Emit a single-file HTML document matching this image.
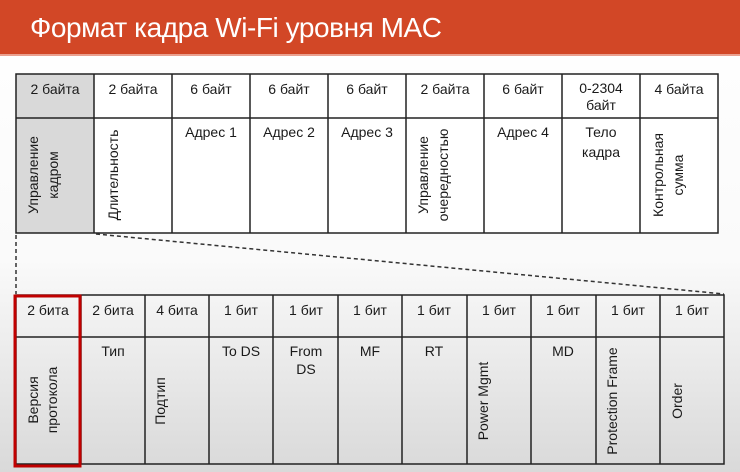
<!DOCTYPE html>
<html><head><meta charset="utf-8"><style>
html,body{margin:0;padding:0;background:#fff;}
svg{display:block;}
text{font-family:"Liberation Sans","DejaVu Sans",sans-serif;fill:#1a1a1a;}
</style></head><body>
<svg width="740" height="472" viewBox="0 0 740 472" xmlns="http://www.w3.org/2000/svg">
<defs>
<linearGradient id="bg" x1="0" y1="0" x2="0" y2="1">
<stop offset="0" stop-color="#ffffff"/>
<stop offset="0.55" stop-color="#fafafa"/>
<stop offset="1" stop-color="#d9d9d9"/>
</linearGradient>
</defs>
<rect x="0" y="0" width="740" height="472" fill="url(#bg)"/>
<rect x="0" y="0" width="740" height="54" fill="#d24726"/>
<rect x="0" y="54" width="740" height="2" fill="#eaa08f"/>
<text x="30" y="37" font-size="28" style="fill:#fff" textLength="412">Формат кадра Wi-Fi уровня MAC</text>

<!-- top table -->
<rect x="16" y="74" width="78" height="159" fill="#d9d9d9"/>
<rect x="94" y="74" width="624" height="159" fill="#fff"/>
<g stroke="#222" stroke-width="1.5" fill="none">
<rect x="16" y="74" width="702" height="159"/>
<line x1="16" y1="118" x2="718" y2="118"/>
<line x1="94" y1="74" x2="94" y2="233"/>
<line x1="172" y1="74" x2="172" y2="233"/>
<line x1="250" y1="74" x2="250" y2="233"/>
<line x1="328" y1="74" x2="328" y2="233"/>
<line x1="406" y1="74" x2="406" y2="233"/>
<line x1="484" y1="74" x2="484" y2="233"/>
<line x1="562" y1="74" x2="562" y2="233"/>
<line x1="640" y1="74" x2="640" y2="233"/>
</g>
<g font-size="14" text-anchor="middle">
<text x="55" y="94">2 байта</text>
<text x="133" y="94">2 байта</text>
<text x="211" y="94">6 байт</text>
<text x="289" y="94">6 байт</text>
<text x="367" y="94">6 байт</text>
<text x="445" y="94">2 байта</text>
<text x="523" y="94">6 байт</text>
<text x="601" y="93">0-2304</text>
<text x="601" y="110">байт</text>
<text x="679" y="94">4 байта</text>
<text x="211" y="137">Адрес 1</text>
<text x="289" y="137">Адрес 2</text>
<text x="367" y="137">Адрес 3</text>
<text x="523" y="137">Адрес 4</text>
<text x="601" y="137">Тело</text>
<text x="601" y="157">кадра</text>
<text transform="translate(38,175) rotate(-90)">Управление</text>
<text transform="translate(58,175) rotate(-90)">кадром</text>
<text transform="translate(118,175) rotate(-90)">Длительность</text>
<text transform="translate(428,175) rotate(-90)">Управление</text>
<text transform="translate(448,175) rotate(-90)">очередностью</text>
<text transform="translate(663,175) rotate(-90)">Контрольная</text>
<text transform="translate(683,175) rotate(-90)">сумма</text>
</g>

<!-- dashed connectors -->
<g stroke="#333" stroke-width="1.5" stroke-dasharray="4,3" fill="none">
<line x1="16" y1="235" x2="16" y2="294"/>
<line x1="96" y1="234" x2="724" y2="294"/>
</g>

<!-- bottom table -->
<g stroke="#222" stroke-width="1.5" fill="none">
<rect x="16" y="295" width="708" height="169"/>
<line x1="16" y1="337" x2="724" y2="337"/>
<line x1="81" y1="295" x2="81" y2="464"/>
<line x1="145" y1="295" x2="145" y2="464"/>
<line x1="209" y1="295" x2="209" y2="464"/>
<line x1="273" y1="295" x2="273" y2="464"/>
<line x1="338" y1="295" x2="338" y2="464"/>
<line x1="402" y1="295" x2="402" y2="464"/>
<line x1="467" y1="295" x2="467" y2="464"/>
<line x1="531" y1="295" x2="531" y2="464"/>
<line x1="596" y1="295" x2="596" y2="464"/>
<line x1="660" y1="295" x2="660" y2="464"/>
</g>
<rect x="15" y="296" width="65" height="170" fill="none" stroke="#c00000" stroke-width="3"/>
<g font-size="14" text-anchor="middle">
<text x="48" y="315">2 бита</text>
<text x="113" y="315">2 бита</text>
<text x="177" y="315">4 бита</text>
<text x="241" y="315">1 бит</text>
<text x="306" y="315">1 бит</text>
<text x="370" y="315">1 бит</text>
<text x="434" y="315">1 бит</text>
<text x="499" y="315">1 бит</text>
<text x="563" y="315">1 бит</text>
<text x="628" y="315">1 бит</text>
<text x="692" y="315">1 бит</text>
<text x="113" y="356">Тип</text>
<text x="241" y="356">To DS</text>
<text x="306" y="356">From</text>
<text x="306" y="374">DS</text>
<text x="370" y="356">MF</text>
<text x="434" y="356">RT</text>
<text x="563" y="356">MD</text>
<text transform="translate(38,400) rotate(-90)">Версия</text>
<text transform="translate(57,400) rotate(-90)">протокола</text>
<text transform="translate(165,401) rotate(-90)">Подтип</text>
<text transform="translate(488,401) rotate(-90)">Power Mgmt</text>
<text transform="translate(617,401) rotate(-90)">Protection Frame</text>
<text transform="translate(682,401) rotate(-90)">Order</text>
</g>
</svg>
</body></html>
